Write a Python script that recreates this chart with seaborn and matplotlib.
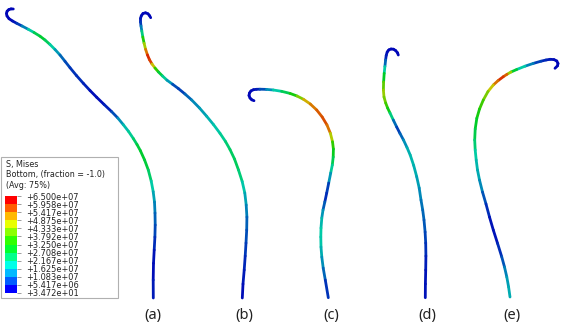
import numpy as np
import pandas as pd
import matplotlib
matplotlib.use('Agg')
import matplotlib.pyplot as plt
from matplotlib.colors import LinearSegmentedColormap
from matplotlib.patches import Rectangle
import seaborn as sns

# points (pixels), s = Mises stress in units of 1e7
a_x = [13.3, 11, 8.8, 7.1, 6.5, 7, 9, 12.5, 16.7, 22, 28.3, 34, 40, 45, 50, 55, 60, 65, 70, 76.5, 83.3, 90, 96.7, 104, 111.7, 117.8, 123.3, 128.6, 133.3, 137, 140.3, 144.6, 148.3, 151.2, 153.2, 154.5, 155, 155.2, 154.9, 154.2, 153.5, 153.2, 153.3]
a_y = [9, 8.9, 9.6, 11.2, 13.5, 16, 18.7, 21, 23.3, 26, 29.3, 32.5, 36.2, 40, 44.5, 49.5, 55, 61.3, 67.7, 75.6, 83.3, 90.5, 97.3, 104.4, 111.7, 118, 124.7, 131.5, 138.5, 144.5, 150.5, 160, 170, 181, 191.7, 202, 213, 225, 237, 250, 263.3, 280, 298]
a_s = [0.3, 0.3, 0.3, 0.3, 0.3, 0.3, 0.3, 0.3, 0.5, 0.9, 1.6, 2.4, 3.0, 2.9, 2.3, 1.7, 1.2, 0.9, 0.7, 0.6, 0.6, 0.4, 0.3, 0.4, 0.6, 1.1, 1.6, 2.0, 2.3, 2.7, 3.0, 2.95, 2.8, 2.2, 1.7, 1.4, 1.1, 0.9, 0.7, 0.5, 0.3, 0.4, 0.5]

b_x = [150.7, 149.5, 148, 145.5, 143, 141.3, 140.5, 140.5, 141, 141.8, 142.8, 144.1, 145.6, 147.4, 149.4, 152, 155, 158.5, 162.5, 167, 172.5, 178.3, 185, 191.7, 199.5, 206.7, 213.5, 220, 225.5, 230, 234.5, 238.5, 242.2, 244.8, 246.2, 246.9, 246.7, 246, 245.2, 244.2, 243, 242.3]
b_y = [17.7, 15.6, 13.8, 12.8, 13.5, 15.8, 18.5, 22, 26, 31, 37, 43.3, 49.3, 54.8, 59.6, 64, 68, 72, 76, 80.2, 84.2, 88.5, 94, 100, 108, 116.3, 124.6, 133.3, 141.5, 149.5, 159, 170, 181.5, 193, 205, 217, 230, 243, 256, 270, 284, 298]
b_s = [0.3, 0.3, 0.3, 0.3, 0.3, 0.3, 0.4, 0.5, 0.9, 1.6, 3.0, 4.0, 5.1, 6.0, 6.4, 5.6, 4.2, 3.2, 2.5, 1.8, 1.1, 0.6, 0.9, 1.2, 1.4, 1.6, 1.8, 2.0, 2.3, 2.5, 2.6, 2.6, 2.1, 1.7, 1.4, 1.1, 0.9, 0.8, 0.6, 0.5, 0.4, 0.3]

c_x = [254, 251.8, 250, 249, 249.5, 251, 253.5, 256.5, 260, 266.5, 273.3, 281.5, 290, 297, 303.5, 310.3, 316.7, 322.2, 327, 330.4, 332.5, 333.4, 333.2, 332.3, 330.7, 328.7, 326.7, 324.8, 323, 321.8, 321, 320.8, 321, 321.8, 323.2, 325.3, 328.3]
c_y = [100.7, 99.8, 98, 95.5, 93, 90.9, 89.7, 89.3, 89.2, 89.4, 90, 91.3, 93.4, 96, 99.3, 104, 110, 117, 125, 133.3, 141.7, 149, 157, 165, 173, 183, 193, 202, 210, 218, 228, 237, 247, 257, 268, 280, 297.7]
c_s = [0.3, 0.3, 0.3, 0.3, 0.3, 0.3, 0.3, 0.4, 0.6, 1.1, 1.6, 2.3, 3.0, 3.8, 4.8, 5.4, 5.7, 5.9, 5.9, 5.3, 4.0, 3.4, 3.0, 2.4, 1.8, 1.0, 0.5, 0.7, 1.2, 1.6, 1.9, 2.0, 1.8, 1.5, 1.2, 0.9, 0.4]

d_x = [398.3, 397.5, 395.7, 393.5, 391, 388.8, 387.2, 386.2, 385.6, 384.9, 384.2, 383.6, 383.4, 384, 385.7, 387.6, 390, 393.3, 396.7, 400, 403.5, 407, 410.2, 413.7, 416.7, 419.2, 421, 422.7, 424, 425.1, 425.7, 425.9, 425.7, 425.4, 425.3]
d_y = [55, 52.8, 50.6, 49.2, 49, 49.9, 52, 55.5, 60, 66.5, 73.3, 82, 90, 97, 103, 108, 113, 120, 127, 133.5, 140, 147.5, 155, 165.5, 176.7, 188, 200, 210, 220, 232, 243, 256, 270, 284, 297.7]
d_s = [0.3, 0.3, 0.3, 0.3, 0.3, 0.3, 0.3, 0.4, 0.6, 1.5, 2.5, 3.6, 4.5, 4.4, 4.0, 3.6, 3.0, 1.6, 0.6, 0.9, 1.2, 1.5, 1.8, 1.7, 1.6, 1.4, 1.2, 1.1, 1.0, 0.85, 0.7, 0.55, 0.4, 0.4, 0.4]

e_x = [555, 557.5, 558, 556.8, 554, 550, 546, 541, 533.3, 525, 516.7, 511, 507, 503.3, 498, 493.3, 488, 483.3, 479.5, 476.8, 475.2, 474.7, 475.2, 476.2, 477.5, 479.5, 482.5, 486, 489.5, 493.3, 497.6, 501.7, 504.5, 506.8, 508.6, 510]
e_y = [68.3, 65.8, 63.5, 61, 59.6, 59.3, 60, 61.2, 63.4, 66.2, 69.5, 72, 74.3, 76.7, 80.7, 85, 91.5, 100, 109, 118.3, 129, 140, 150, 160, 170, 180, 192, 204, 217, 230, 243.5, 256.7, 267, 277, 287, 297]
e_s = [0.3, 0.3, 0.3, 0.3, 0.3, 0.4, 0.5, 0.6, 0.9, 1.6, 2.3, 3.6, 5.3, 6.2, 6.0, 5.2, 4.5, 4.0, 3.6, 3.2, 2.9, 2.6, 2.2, 1.8, 1.7, 1.5, 1.1, 0.7, 0.5, 0.3, 0.5, 0.7, 1.1, 1.4, 1.55, 1.7]

curve_names = ['(a)', '(b)', '(c)', '(d)', '(e)']
curve_label_x = [153, 244, 331, 427, 512]

legend_titles = ['S, Mises', 'Bottom, (fraction = -1.0)', '(Avg: 75%)']
legend_ticks = ['+6.500e+07', '+5.958e+07', '+5.417e+07', '+4.875e+07', '+4.333e+07',
                '+3.792e+07', '+3.250e+07', '+2.708e+07', '+2.167e+07', '+1.625e+07',
                '+1.083e+07', '+5.417e+06', '+3.472e+01']
band_colors = ['#ff0000', '#ff5d00', '#ffb900', '#e8ff00', '#8bff00', '#2eff00',
               '#00ff2e', '#00ff8b', '#00ffe8', '#00b9ff', '#005dff', '#0000ff']

sns.set_theme(style='white')
plt.rcParams['font.family'] = 'DejaVu Sans'

fig = plt.figure(figsize=(5.62, 3.34), dpi=100)
ax = fig.add_axes([0, 0, 1, 1])

# curves look a bit darker than the legend because of the shading
spectrum = LinearSegmentedColormap.from_list('abaqus', band_colors[::-1])


def shaded(s):
    r, g, b, _ = spectrum(np.clip((s - 0.25) / 6.25, 0, 1))
    return (r * 0.85, g * 0.8, b * 0.72)


rows = []
palette = {}
curves = [(a_x, a_y, a_s), (b_x, b_y, b_s), (c_x, c_y, c_s), (d_x, d_y, d_s), (e_x, e_y, e_s)]
for name, (xs, ys, ss) in zip(curve_names, curves):
    for i in range(len(xs) - 1):
        seg = f'{name}{i}'
        palette[seg] = shaded((ss[i] + ss[i + 1]) / 2)
        rows.append((seg, xs[i], ys[i]))
        rows.append((seg, xs[i + 1], ys[i + 1]))
df = pd.DataFrame(rows, columns=['seg', 'x', 'y'])

sns.lineplot(data=df, x='x', y='y', hue='seg', palette=palette, estimator=None, sort=False,
             legend=False, linewidth=2.0, solid_capstyle='round', ax=ax)
for line in ax.lines:
    line.set_snap(False)

ax.set_xlim(0, 562)
ax.set_ylim(334, 0)
ax.axis('off')

for name, lx in zip(curve_names, curve_label_x):
    ax.text(lx, 315, name, ha='center', va='center', fontsize=10.5, family='Noto Sans', color='#222222')

# legend box
ax.add_patch(Rectangle((0.5, 157), 117.5, 141, facecolor='white', edgecolor='#b0b0b0', linewidth=0.8, zorder=3))
for ty, t in zip([165, 175, 185], legend_titles):
    ax.text(6, ty, t, ha='left', va='center', fontsize=5.8, color='#222222', zorder=4)

# colour bar
bar_ax = fig.add_axes([5 / 562, 1 - 293 / 334, 12 / 562, 97 / 334], zorder=5)
sns.heatmap(np.arange(12).reshape(-1, 1), cmap=band_colors, cbar=False, ax=bar_ax,
            xticklabels=False, yticklabels=False)
bar_ax.yaxis.tick_right()
bar_ax.set_yticks(np.arange(13))
bar_ax.set_yticklabels(legend_ticks, rotation=0, fontsize=5.95, color='#222222')
bar_ax.tick_params(axis='y', right=True, left=False, length=3, width=0.5, color='#777777', pad=3.5)

fig.savefig('out.png', dpi=100, facecolor='white')
